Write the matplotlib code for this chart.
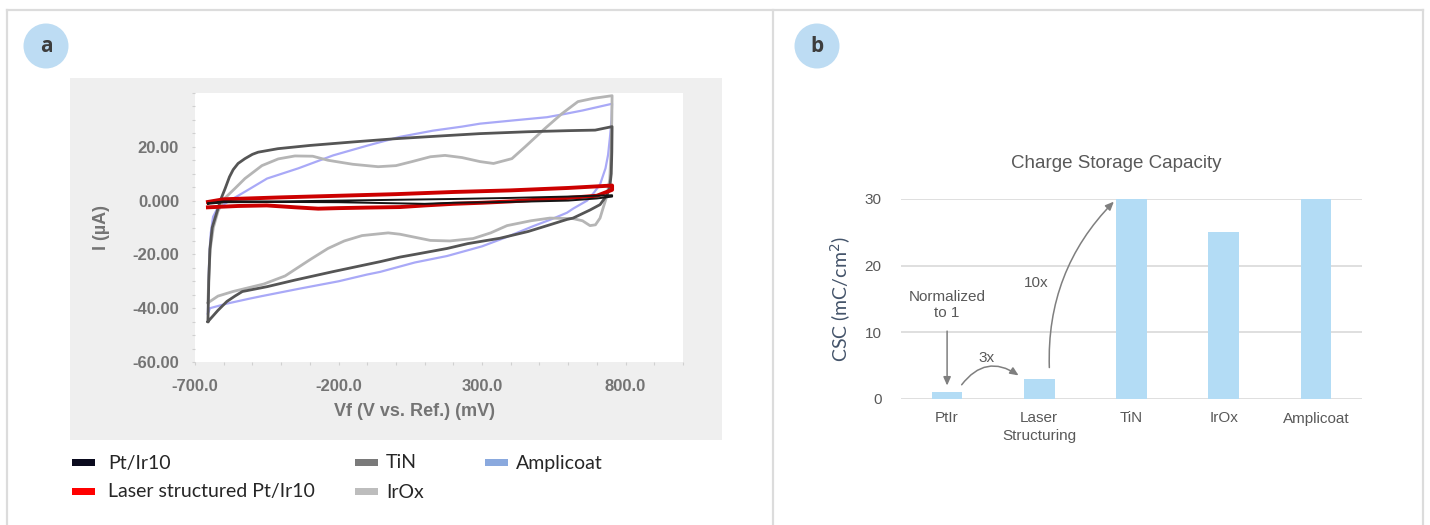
import matplotlib.pyplot as plt
from matplotlib.patches import Rectangle, Ellipse
from matplotlib.lines import Line2D
from matplotlib.ticker import FixedLocator

W, H = 1430, 525

# ---- panel a: cyclic voltammograms (potential mV, current uA) ----
tin_v_fwd = [-655, -652, -648, -640, -623, -610, -595, -580, -567, -550, -526,
             -500, -480, -411, -300, -150, -3, 150, 293, 460, 600, 694, 753]
tin_i_fwd = [-45, -30, -18, -10, -4, 0.5, 4.5, 8.8, 11.5, 13.8, 15.6,
             17.2, 18, 19.3, 20.5, 21.8, 23, 24, 24.9, 25.6, 26, 26.2, 27.5]
tin_v_rev = [753, 752, 750, 745, 735, 711, 676, 617, 596, 536, 460, 362, 250,
             178, 66, 14, -55, -219, -350, -449, -535, -561, -589, -620, -655]
tin_i_rev = [27.5, 18, 10, 5, 2, -1.5, -3.5, -6.5, -7, -9, -11.5, -14, -16,
             -17.8, -20, -21, -22.7, -26.4, -29.5, -32, -33.8, -35.5, -37.5, -40.8, -45]

irox_v_fwd = [-655, -652, -647, -636, -620, -600, -561, -526, -467, -410, -352,
              -290, -237, -150, -62, 0, 56, 120, 171, 230, 293, 340, 404, 450,
              519, 578, 634, 687, 753]
irox_i_fwd = [-38, -28, -18, -10, -4, 0.5, 4.5, 8.2, 13, 15.5, 16.6,
              16.5, 15, 13.5, 12.6, 13, 14.5, 16.3, 16.8, 16, 14.5, 13.8, 15.6, 20,
              26.8, 32.3, 36.8, 38, 39]
irox_v_rev = [753, 752, 749, 745, 735, 721, 711, 695, 676, 650, 617, 536, 470,
              387, 330, 269, 188, 120, 60, 14, -27, -118, -180, -237, -300, -386,
              -460, -568, -620, -655]
irox_i_rev = [39, 30, 18, 8, 1.8, -3, -6.5, -9, -9.3, -7.5, -6.7, -6.5, -7.5,
              -9.3, -12, -14.1, -15, -14.8, -13.5, -12.5, -12, -13, -15, -17.8, -22, -28,
              -31, -33.8, -35.5, -38]

ampli_v_fwd = [-655, -653, -650, -645, -637, -620, -595, -568, -526, -449, -340,
               -219, -101, 14, 129, 230, 293, 408, 526, 578, 650, 753]
ampli_i_fwd = [-42, -30, -20, -12, -6, -2.5, -1.1, 0.7, 3.3, 8.2, 12,
               16.8, 20.4, 23.7, 26, 27.5, 28.6, 29.8, 31, 32, 33.5, 36]
ampli_v_rev = [753, 751, 746, 739, 730, 711, 690, 666, 617, 596, 540, 478, 387,
               300, 178, 66, -55, -101, -200, -334, -467, -508, -589, -648, -655]
ampli_i_rev = [36, 30, 24, 17, 12, 6, 3, 0, -3, -4.5, -7, -9.5, -13.5,
               -17, -20.6, -23, -26.5, -27.5, -30, -32.7, -35.5, -36.4, -38.3, -40, -42]

laser_v_fwd = [-655, -600, -400, -200, 0, 200, 400, 600, 753]
laser_i_fwd = [-0.5, 0.5, 1.2, 1.8, 2.4, 3.2, 3.8, 4.7, 5.6]
laser_v_rev = [753, 700, 600, 500, 400, 300, 200, 100, 14, -100, -200, -271,
               -350, -450, -550, -655]
laser_i_rev = [4, 1.8, 1, 0.4, -0.3, -0.8, -1.2, -1.8, -2.4, -2.6, -2.8, -3,
               -2.5, -1.8, -2, -2.5]

ptir_v_fwd = [-655, -600, -400, -200, 0, 200, 400, 600, 753]
ptir_i_fwd = [-1, -0.3, -0.3, 0, 0.3, 0.6, 1, 1.5, 2]
ptir_v_rev = [753, 700, 600, 400, 200, 100, 0, -200, -400, -600, -655]
ptir_i_rev = [1.5, 0.8, 0, -0.5, -0.8, -1.2, -1, -0.6, -0.5, -0.6, -1.2]

x_ticks_a = [-700, -200, 300, 800]
y_ticks_a = [-60, -40, -20, 0, 20]
y_ticklabels_a = ["-60.00", "-40.00", "-20.00", "0.000", "20.00"]

legend_labels = ["Pt/Ir10", "Laser structured Pt/Ir10", "TiN", "IrOx", "Amplicoat"]
legend_colors = ["#0b0b1e", "#ff0000", "#7a7a7a", "#bdbdbd", "#8aa9de"]

# ---- panel b: charge storage capacity ----
materials = ["PtIr", "Laser\nStructuring", "TiN", "IrOx", "Amplicoat"]
csc = [1, 3, 30, 25, 30]


def fx(px):
    return px / W


def fy(py):
    return 1 - py / H


tick_font = "Liberation Sans"
gray_txt = "#747474"

fig = plt.figure(figsize=(W / 100, H / 100), dpi=100)

# panel frames
border = "#dcdcdc"
for xs, ys in [([7, 1423], [10, 10]), ([7, 7], [10, 525]),
               ([773, 773], [10, 525]), ([1423, 1423], [10, 525])]:
    fig.add_artist(Line2D([fx(x) for x in xs], [fy(y) for y in ys],
                          color=border, lw=1.6))

# badges
for cx, cy, letter in [(46, 46, "a"), (817, 46, "b")]:
    fig.add_artist(Ellipse((fx(cx), fy(cy)), 45 / W, 45 / H,
                           facecolor="#bddcf3", edgecolor="none"))
    fig.text(fx(cx), fy(cy + 1), letter, ha="center", va="center",
             fontsize=15, fontweight="bold", color="#3d3d3d", family="Open Sans")

# grey backdrop behind the CV chart
fig.add_artist(Rectangle((fx(70), fy(440)), (722 - 70) / W, (440 - 78) / H,
                         facecolor="#efefef", edgecolor="none", zorder=0))

ax = fig.add_axes([fx(195), fy(362), (683 - 195) / W, (362 - 93) / H])
ax.set_facecolor("white")
ax.plot(ampli_v_fwd + ampli_v_rev, ampli_i_fwd + ampli_i_rev, color="#a9a9f7", lw=1.6)
ax.plot(irox_v_fwd + irox_v_rev, irox_i_fwd + irox_i_rev, color="#b5b5b5", lw=2.0)
ax.plot(tin_v_fwd + tin_v_rev, tin_i_fwd + tin_i_rev, color="#555555", lw=2.0)
ax.plot(laser_v_fwd + laser_v_rev, laser_i_fwd + laser_i_rev, color="#cc0000", lw=2.8)
ax.plot(ptir_v_fwd + ptir_v_rev, ptir_i_fwd + ptir_i_rev, color="#151515", lw=1.4)
ax.set_xlim(-700, 1000)
ax.set_ylim(-60, 40)
for s in ax.spines.values():
    s.set_visible(False)
ax.xaxis.set_major_locator(FixedLocator(x_ticks_a))
ax.xaxis.set_minor_locator(FixedLocator(range(-700, 1001, 100)))
ax.yaxis.set_major_locator(FixedLocator(y_ticks_a))
ax.yaxis.set_minor_locator(FixedLocator(range(-60, 41, 5)))
ax.set_xticklabels([f"{v:.1f}" for v in x_ticks_a])
ax.set_yticklabels(y_ticklabels_a)
ax.tick_params(which="both", length=2.5, color="#d0d0d0", width=0.8)
ax.tick_params(axis="x", pad=10)
ax.tick_params(axis="y", pad=9)
for lab in ax.get_xticklabels() + ax.get_yticklabels():
    lab.set_family(tick_font)
    lab.set_fontweight("bold")
    lab.set_fontsize(12)
    lab.set_color(gray_txt)

fig.text(fx(415), fy(412), "Vf (V vs. Ref.) (mV)", ha="center", va="center",
         fontsize=13, fontweight="bold", color=gray_txt, family=tick_font)
fig.text(fx(101), fy(228), "I (µA)", ha="center", va="center", rotation=90,
         fontsize=13, fontweight="bold", color=gray_txt, family=tick_font)

# legend below the chart
legend_pos = [(72, 463), (72, 492), (355, 463), (355, 492), (485, 463)]
for (lx, ly), lab, col in zip(legend_pos, legend_labels, legend_colors):
    fig.add_artist(Rectangle((fx(lx), fy(ly + 3)), 23 / W, 7 / H,
                             facecolor=col, edgecolor="none"))
    fig.text(fx(lx + 36 if lx == 72 else lx + 31), fy(ly), lab, ha="left",
             va="center", fontsize=14, color="#262626", family="Lato")

# ---- panel b ----
bx = fig.add_axes([fx(901), fy(399), (1362 - 901) / W, (399 - 199) / H])
pos = list(range(len(materials)))
bx.bar(pos, csc, width=0.33, color="#b3dcf5", zorder=2)
bx.set_xlim(-0.5, len(materials) - 0.5)
bx.set_ylim(0, 30)
bx.set_yticks([0, 10, 20, 30])
bx.set_xticks(pos)
bx.set_xticklabels(materials, linespacing=1.3)
bx.grid(axis="y", color="#d9d9d9", lw=1.2, zorder=0)
bx.set_axisbelow(True)
for s in bx.spines.values():
    s.set_visible(False)
bx.tick_params(length=0, labelsize=11, labelcolor="#595959")
bx.tick_params(axis="y", pad=14)
bx.tick_params(axis="x", pad=9)
for lab in bx.get_xticklabels() + bx.get_yticklabels():
    lab.set_family("Liberation Sans")
bx.set_ylabel("CSC (mC/cm$^2$)", fontsize=14, color="#44546a", family="Lato",
              labelpad=8)
fig.text(fx(1116), fy(163), "Charge Storage Capacity", ha="center", va="center",
         fontsize=13.5, color="#595959", family="Liberation Sans")

arrow_kw = dict(arrowstyle="-|>,head_length=0.5,head_width=0.22",
                color="#7f7f7f", lw=1.1)
bx.annotate("", xy=(0, 1.6), xytext=(0, 10.6), arrowprops=arrow_kw)
bx.text(0, 14.1, "Normalized\nto 1", ha="center", va="center", fontsize=11,
        color="#595959", family="Liberation Sans", linespacing=1.2)
bx.annotate("", xy=(0.8, 3.3), xytext=(0.14, 1.8),
            arrowprops=dict(arrow_kw, connectionstyle="arc3,rad=-0.5"))
bx.text(0.43, 6.1, "3x", ha="center", va="center", fontsize=11,
        color="#595959", family="Liberation Sans")
bx.annotate("", xy=(1.83, 29.9), xytext=(1.11, 4.3),
            arrowprops=dict(arrow_kw, connectionstyle="arc3,rad=-0.22"))
bx.text(0.97, 17.4, "10x", ha="center", va="center", fontsize=11,
        color="#595959", family="Liberation Sans")

fig.savefig("out.png", dpi=100)
